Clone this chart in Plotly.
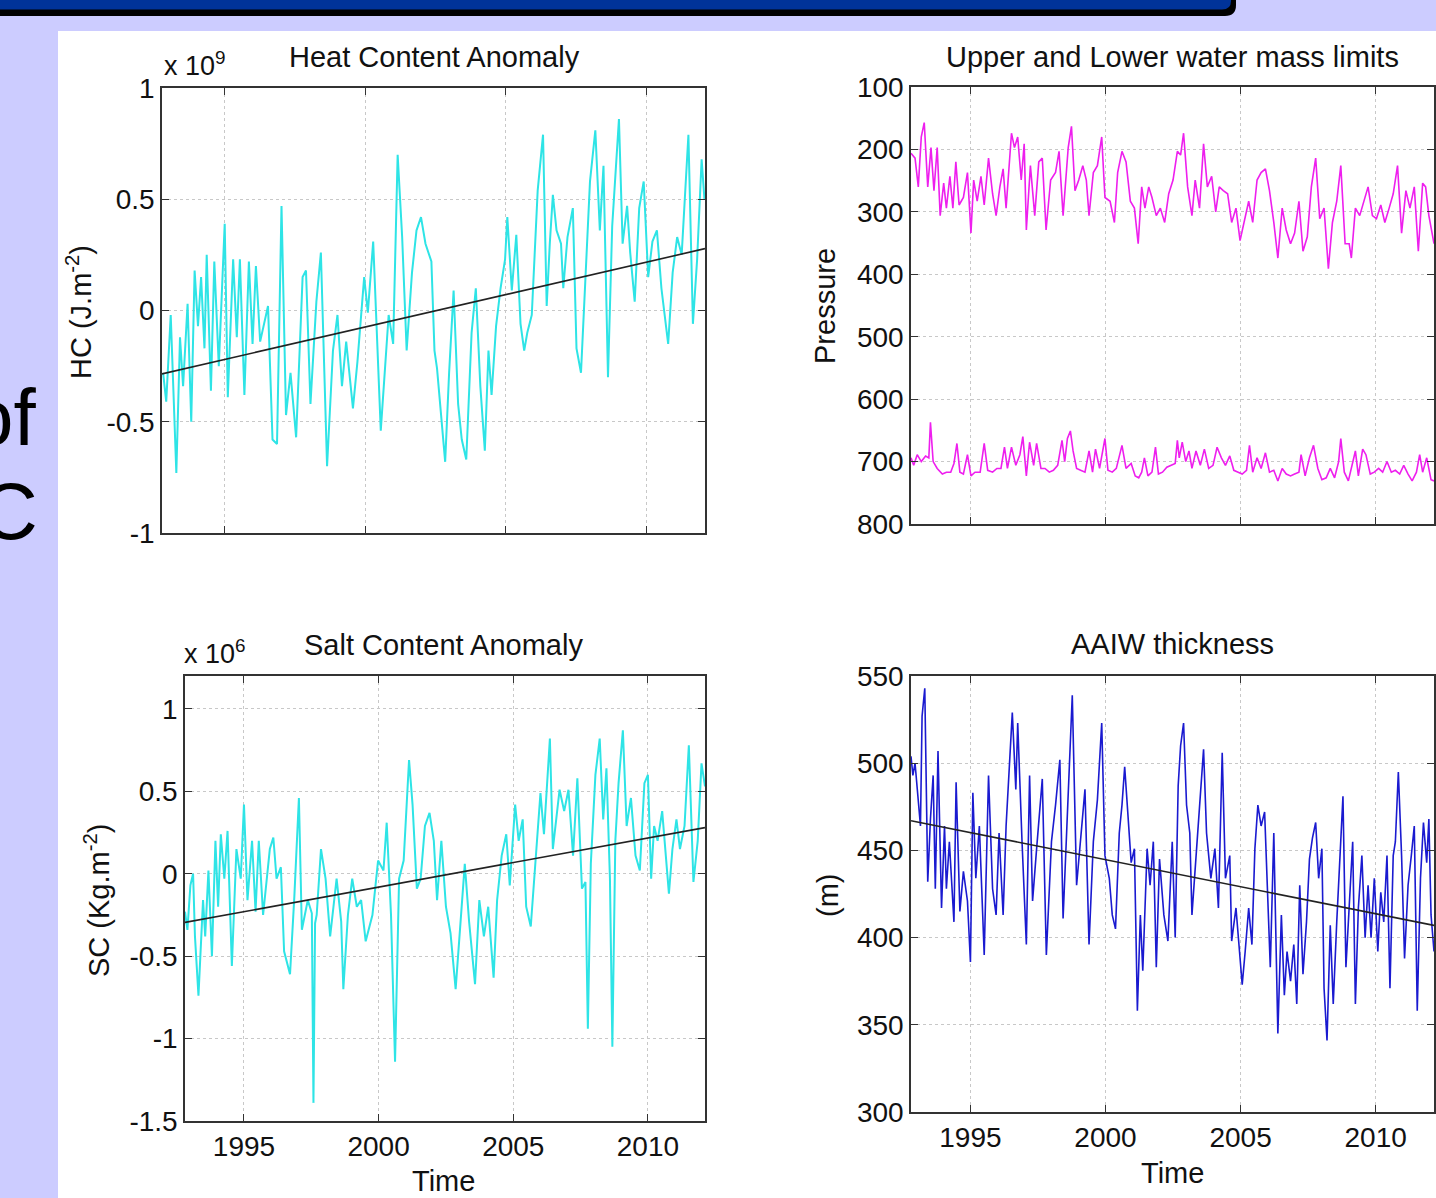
import plotly.graph_objects as go

W, H = 1436, 1198

# ---------------- data ----------------
hc_time = [1992.81, 1992.92, 1993.08, 1993.28, 1993.41, 1993.52, 1993.68, 1993.81, 1993.93, 1994.05,
           1994.16, 1994.28, 1994.36, 1994.51, 1994.63, 1994.79, 1995.00, 1995.11, 1995.30, 1995.43,
           1995.54, 1995.70, 1995.86, 1995.99, 1996.11, 1996.26, 1996.54, 1996.70, 1996.86, 1997.02,
           1997.18, 1997.34, 1997.54, 1997.77, 1997.89, 1998.05, 1998.26, 1998.42, 1998.64, 1998.85,
           1999.01, 1999.17, 1999.32, 1999.56, 1999.72, 1999.96, 2000.09, 2000.28, 2000.55, 2000.83,
           2000.99, 2001.15, 2001.31, 2001.47, 2001.66, 2001.82, 2001.98, 2002.14, 2002.35, 2002.46,
           2002.55, 2002.66, 2002.84, 2002.98, 2003.14, 2003.30, 2003.43, 2003.59, 2003.78, 2003.93,
           2004.09, 2004.25, 2004.38, 2004.49, 2004.65, 2004.81, 2004.97, 2005.05, 2005.21, 2005.37,
           2005.52, 2005.65, 2005.76, 2005.92, 2006.13, 2006.32, 2006.45, 2006.56, 2006.67, 2006.80,
           2006.96, 2007.04, 2007.19, 2007.38, 2007.51, 2007.67, 2007.83, 2007.99, 2008.18, 2008.34,
           2008.47, 2008.63, 2008.78, 2009.02, 2009.15, 2009.31, 2009.42, 2009.58, 2009.74, 2009.90,
           2010.06, 2010.21, 2010.37, 2010.53, 2010.77, 2010.93, 2011.09, 2011.25, 2011.49, 2011.65,
           2011.80, 2011.96, 2012.06]
hc_value = [-0.28, -0.41, -0.02, -0.73, -0.12, -0.34, 0.03, -0.50, 0.18, -0.07,
            0.15, -0.17, 0.25, -0.36, 0.22, -0.25, 0.39, -0.39, 0.23, -0.12,
            0.23, -0.38, 0.22, -0.15, 0.20, -0.14, 0.02, -0.58, -0.60, 0.47,
            -0.47, -0.28, -0.57, 0.15, 0.18, -0.42, 0.04, 0.26, -0.70, -0.18,
            -0.02, -0.34, -0.14, -0.44, -0.23, 0.15, -0.01, 0.31, -0.54, -0.02,
            -0.15, 0.70, 0.33, -0.18, 0.17, 0.36, 0.42, 0.30, 0.22, -0.18,
            -0.26, -0.42, -0.68, -0.28, 0.09, -0.42, -0.58, -0.67, -0.10, 0.10,
            -0.34, -0.63, -0.18, -0.38, -0.07, 0.10, 0.23, 0.42, 0.09, 0.34,
            -0.06, -0.18, -0.10, -0.02, 0.54, 0.79, 0.02, 0.30, 0.52, 0.36,
            0.30, 0.10, 0.33, 0.46, -0.17, -0.28, 0.14, 0.58, 0.81, 0.36,
            0.65, -0.30, 0.38, 0.86, 0.30, 0.47, 0.26, 0.04, 0.46, 0.58,
            0.15, 0.31, 0.36, 0.10, -0.15, 0.17, 0.33, 0.25, 0.79, -0.06,
            0.23, 0.68, 0.50]
hc_trend_time = [1992.77, 2012.08]
hc_trend_value = [-0.285, 0.278]

upper_time = [1992.80, 1992.95, 1993.07, 1993.18, 1993.29, 1993.42, 1993.54, 1993.65, 1993.77, 1993.88,
              1994.01, 1994.11, 1994.24, 1994.35, 1994.46, 1994.58, 1994.74, 1994.89, 1995.02, 1995.12,
              1995.25, 1995.39, 1995.51, 1995.67, 1995.82, 1995.95, 1996.09, 1996.21, 1996.32, 1996.52,
              1996.63, 1996.75, 1996.88, 1996.99, 1997.07, 1997.22, 1997.38, 1997.53, 1997.66, 1997.80,
              1997.97, 1998.15, 1998.28, 1998.43, 1998.62, 1998.74, 1998.87, 1999.01, 1999.16, 1999.29,
              1999.39, 1999.55, 1999.70, 1999.86, 1999.98, 2000.17, 2000.33, 2000.45, 2000.61, 2000.76,
              2000.92, 2001.07, 2001.21, 2001.34, 2001.46, 2001.60, 2001.72, 2001.88, 2002.03, 2002.19,
              2002.34, 2002.50, 2002.66, 2002.78, 2002.89, 2003.04, 2003.20, 2003.32, 2003.48, 2003.63,
              2003.77, 2003.93, 2004.08, 2004.21, 2004.36, 2004.52, 2004.67, 2004.83, 2004.98, 2005.14,
              2005.30, 2005.45, 2005.61, 2005.76, 2005.92, 2006.07, 2006.23, 2006.38, 2006.54, 2006.69,
              2006.85, 2007.00, 2007.16, 2007.31, 2007.47, 2007.62, 2007.78, 2007.93, 2008.09, 2008.25,
              2008.40, 2008.56, 2008.71, 2008.87, 2009.02, 2009.10, 2009.25, 2009.41, 2009.57, 2009.72,
              2009.88, 2010.03, 2010.19, 2010.34, 2010.50, 2010.65, 2010.81, 2010.96, 2011.12, 2011.27,
              2011.43, 2011.58, 2011.74, 2011.85, 2011.97, 2012.16]
upper_pressure = [206, 214, 260, 180, 157, 260, 197, 266, 197, 306,
                  254, 294, 243, 294, 220, 289, 277, 237, 334, 249,
                  283, 243, 289, 214, 271, 306, 260, 231, 294, 174,
                  197, 180, 249, 191, 329, 226, 306, 220, 214, 329,
                  249, 237, 203, 306, 197, 163, 266, 249, 226, 249,
                  306, 237, 226, 180, 277, 283, 317, 237, 203, 220,
                  283, 294, 351, 260, 294, 260, 277, 306, 294, 317,
                  271, 249, 203, 209, 174, 260, 306, 249, 294, 191,
                  260, 243, 300, 260, 266, 271, 317, 294, 346, 317,
                  283, 317, 249, 237, 231, 266, 317, 374, 294, 329,
                  351, 334, 283, 363, 340, 260, 214, 311, 294, 391,
                  317, 283, 226, 351, 351, 374, 294, 306, 283, 260,
                  306, 311, 289, 317, 294, 271, 226, 334, 266, 294,
                  260, 363, 254, 260, 306, 351]

lower_time = [1992.80, 1992.90, 1993.03, 1993.18, 1993.34, 1993.46, 1993.52, 1993.62, 1993.77, 1993.96,
              1994.11, 1994.27, 1994.39, 1994.50, 1994.61, 1994.74, 1994.89, 1995.02, 1995.17, 1995.36,
              1995.51, 1995.64, 1995.82, 1995.98, 1996.13, 1996.26, 1996.37, 1996.52, 1996.68, 1996.83,
              1996.94, 1997.07, 1997.19, 1997.34, 1997.45, 1997.61, 1997.76, 1997.92, 1998.07, 1998.23,
              1998.39, 1998.49, 1998.59, 1998.70, 1998.80, 1998.93, 1999.08, 1999.24, 1999.39, 1999.52,
              1999.63, 1999.78, 1999.98, 2000.09, 2000.25, 2000.40, 2000.61, 2000.76, 2000.95, 2001.10,
              2001.23, 2001.34, 2001.44, 2001.57, 2001.72, 2001.85, 2001.96, 2002.11, 2002.27, 2002.42,
              2002.58, 2002.66, 2002.73, 2002.84, 2002.97, 2003.09, 2003.20, 2003.35, 2003.51, 2003.66,
              2003.82, 2003.98, 2004.13, 2004.29, 2004.44, 2004.60, 2004.75, 2004.91, 2005.06, 2005.22,
              2005.33, 2005.45, 2005.61, 2005.76, 2005.92, 2006.07, 2006.23, 2006.38, 2006.54, 2006.69,
              2006.85, 2007.00, 2007.16, 2007.24, 2007.39, 2007.55, 2007.70, 2007.86, 2008.01, 2008.17,
              2008.32, 2008.48, 2008.63, 2008.71, 2008.84, 2008.99, 2009.15, 2009.25, 2009.36, 2009.52,
              2009.64, 2009.80, 2009.95, 2010.11, 2010.26, 2010.42, 2010.58, 2010.73, 2010.89, 2011.04,
              2011.20, 2011.35, 2011.51, 2011.63, 2011.74, 2011.89, 2012.05, 2012.16]
lower_pressure = [694, 706, 689, 700, 691, 694, 637, 700, 711, 720,
                  717, 717, 703, 671, 717, 720, 689, 723, 717, 717,
                  671, 714, 717, 711, 711, 677, 711, 677, 706, 689,
                  660, 723, 669, 706, 671, 711, 711, 717, 714, 706,
                  666, 700, 663, 651, 683, 711, 714, 717, 683, 717,
                  680, 711, 663, 714, 717, 711, 674, 711, 703, 723,
                  726, 717, 694, 723, 717, 677, 720, 717, 709, 706,
                  703, 666, 694, 669, 700, 683, 711, 683, 706, 680,
                  711, 706, 677, 694, 706, 691, 714, 717, 720, 714,
                  674, 717, 694, 711, 686, 717, 714, 731, 711, 720,
                  723, 720, 717, 689, 723, 694, 674, 711, 729, 726,
                  711, 726, 700, 663, 717, 731, 700, 683, 723, 680,
                  689, 720, 717, 711, 717, 700, 717, 714, 720, 706,
                  720, 731, 717, 689, 717, 694, 729, 731]

sc_time = [1992.81, 1992.90, 1993.01, 1993.11, 1993.18, 1993.31, 1993.48, 1993.56, 1993.68, 1993.81,
           1993.94, 1994.04, 1994.14, 1994.27, 1994.39, 1994.55, 1994.72, 1994.88, 1995.00, 1995.13,
           1995.30, 1995.43, 1995.55, 1995.71, 1995.96, 1996.09, 1996.21, 1996.37, 1996.49, 1996.71,
           1996.87, 1997.04, 1997.15, 1997.37, 1997.52, 1997.58, 1997.64, 1997.70, 1997.86, 1998.03, 1998.20, 1998.44,
           1998.61, 1998.69, 1998.86, 1999.02, 1999.19, 1999.35, 1999.52, 1999.77, 1999.98, 2000.18,
           2000.30, 2000.46, 2000.61, 2000.76, 2000.93, 2001.13, 2001.26, 2001.42, 2001.56, 2001.72,
           2001.89, 2002.05, 2002.17, 2002.33, 2002.50, 2002.67, 2002.86, 2003.03, 2003.20, 2003.36,
           2003.58, 2003.74, 2003.91, 2004.07, 2004.27, 2004.40, 2004.57, 2004.74, 2004.87, 2005.07,
           2005.20, 2005.35, 2005.48, 2005.65, 2005.81, 2006.01, 2006.14, 2006.36, 2006.47, 2006.59,
           2006.72, 2006.89, 2007.05, 2007.22, 2007.38, 2007.55, 2007.68, 2007.77, 2007.88, 2008.05,
           2008.21, 2008.34, 2008.46, 2008.59, 2008.68, 2008.79, 2008.91, 2009.07, 2009.21, 2009.37,
           2009.54, 2009.70, 2009.87, 2010.00, 2010.12, 2010.23, 2010.36, 2010.53, 2010.78, 2010.91,
           2011.06, 2011.19, 2011.36, 2011.52, 2011.69, 2011.85, 2011.99, 2012.12]
sc_value = [-0.23, -0.34, -0.07, 0.00, -0.38, -0.74, -0.16, -0.38, 0.02, -0.50,
            0.20, -0.20, 0.24, -0.03, 0.26, -0.56, 0.15, -0.03, 0.42, -0.16,
            0.20, -0.23, 0.20, -0.25, 0.15, 0.22, -0.03, 0.04, -0.47, -0.61,
            -0.14, 0.46, -0.34, -0.16, -0.24, -1.39, -0.30, -0.25, 0.15, -0.03, -0.38, -0.03,
            -0.29, -0.70, -0.25, -0.03, -0.20, -0.16, -0.41, -0.25, 0.08, 0.02,
            0.31, -0.25, -1.14, -0.03, 0.08, 0.69, 0.42, -0.09, -0.03, 0.29,
            0.37, 0.20, -0.16, 0.20, -0.20, -0.36, -0.70, -0.29, 0.06, -0.29,
            -0.67, -0.16, -0.38, -0.20, -0.63, -0.16, 0.11, 0.24, -0.07, 0.42,
            0.20, 0.33, -0.20, -0.32, 0.02, 0.49, 0.24, 0.82, 0.15, 0.33,
            0.51, 0.38, 0.51, 0.11, 0.58, -0.09, -0.05, -0.94, 0.06, 0.60,
            0.82, 0.33, 0.64, -0.03, -1.05, 0.20, 0.55, 0.87, 0.29, 0.46,
            0.11, 0.02, 0.55, 0.60, -0.03, 0.29, 0.20, 0.38, -0.12, 0.15,
            0.33, 0.15, 0.29, 0.78, -0.05, 0.20, 0.67, 0.53]
sc_trend_time = [1992.81, 2012.12]
sc_trend_value = [-0.295, 0.28]

aaiw_time = [1992.80, 1992.87, 1992.95, 1993.06, 1993.15, 1993.21, 1993.31, 1993.42, 1993.52, 1993.62,
             1993.70, 1993.80, 1993.93, 1994.04, 1994.11, 1994.22, 1994.39, 1994.47, 1994.61, 1994.74,
             1994.89, 1995.00, 1995.09, 1995.20, 1995.33, 1995.51, 1995.67, 1995.82, 1995.95, 1996.06,
             1996.21, 1996.32, 1996.44, 1996.55, 1996.68, 1996.75, 1996.91, 1997.07, 1997.19, 1997.30,
             1997.45, 1997.66, 1997.81, 1998.00, 1998.15, 1998.31, 1998.43, 1998.59, 1998.77, 1998.93,
             1999.12, 1999.24, 1999.39, 1999.55, 1999.70, 1999.86, 1999.98, 2000.14, 2000.25, 2000.37,
             2000.51, 2000.61, 2000.71, 2000.82, 2000.95, 2001.07, 2001.18, 2001.29, 2001.38, 2001.54,
             2001.65, 2001.77, 2001.88, 2002.00, 2002.16, 2002.31, 2002.47, 2002.58, 2002.69, 2002.78,
             2002.89, 2003.00, 2003.12, 2003.20, 2003.35, 2003.51, 2003.63, 2003.74, 2003.90, 2004.05,
             2004.18, 2004.32, 2004.44, 2004.60, 2004.67, 2004.83, 2004.95, 2005.06, 2005.17, 2005.30,
             2005.42, 2005.53, 2005.64, 2005.76, 2005.89, 2005.99, 2006.10, 2006.23, 2006.38, 2006.51,
             2006.62, 2006.72, 2006.85, 2006.97, 2007.08, 2007.19, 2007.31, 2007.44, 2007.55, 2007.66,
             2007.78, 2007.89, 2008.01, 2008.09, 2008.20, 2008.32, 2008.43, 2008.56, 2008.68, 2008.79,
             2008.90, 2009.02, 2009.15, 2009.25, 2009.36, 2009.49, 2009.61, 2009.72, 2009.83, 2009.95,
             2010.08, 2010.19, 2010.30, 2010.42, 2010.53, 2010.65, 2010.73, 2010.84, 2010.96, 2011.07,
             2011.20, 2011.32, 2011.43, 2011.54, 2011.66, 2011.77, 2011.89, 2011.97, 2012.05, 2012.16]
aaiw_thickness = [504, 493, 500, 481, 464, 527, 543, 432, 468, 493,
                  428, 507, 417, 464, 428, 455, 409, 489, 415, 438,
                  421, 386, 483, 434, 464, 390, 493, 428, 413, 460,
                  413, 464, 495, 529, 485, 523, 455, 396, 493, 421,
                  451, 491, 390, 455, 476, 502, 411, 474, 539, 430,
                  466, 485, 396, 455, 479, 523, 447, 434, 413, 405,
                  460, 476, 498, 470, 443, 451, 358, 413, 381, 451,
                  430, 455, 383, 445, 413, 398, 455, 400, 487, 510,
                  523, 476, 460, 413, 445, 485, 508, 460, 434, 451,
                  417, 506, 434, 447, 398, 417, 396, 373, 392, 417,
                  396, 451, 476, 464, 472, 434, 383, 460, 345, 413,
                  367, 392, 375, 396, 362, 430, 379, 409, 445, 457,
                  466, 434, 451, 371, 341, 407, 362, 409, 443, 481,
                  383, 415, 455, 362, 417, 447, 400, 430, 400, 434,
                  392, 426, 409, 447, 371, 447, 455, 495, 447, 388,
                  430, 447, 464, 358, 434, 466, 443, 468, 413, 392]
aaiw_trend_time = [1992.80, 2012.16]
aaiw_trend_value = [467, 407]

year_ticks = [1995, 2000, 2005, 2010]
year_labels = ["1995", "2000", "2005", "2010"]
hc_ticks = [-1, -0.5, 0, 0.5, 1]
hc_labels = ["-1", "-0.5", "0", "0.5", "1"]
p_ticks = [100, 200, 300, 400, 500, 600, 700, 800]
p_labels = ["100", "200", "300", "400", "500", "600", "700", "800"]
sc_ticks = [-1.5, -1, -0.5, 0, 0.5, 1]
sc_labels = ["-1.5", "-1", "-0.5", "0", "0.5", "1"]
th_ticks = [300, 350, 400, 450, 500, 550]
th_labels = ["300", "350", "400", "450", "500", "550"]

assert len(hc_time) == len(hc_value)
assert len(upper_time) == len(upper_pressure)
assert len(lower_time) == len(lower_pressure)
assert len(sc_time) == len(sc_value)
assert len(aaiw_time) == len(aaiw_thickness)

# ---------------- styling ----------------
FONT = "Liberation Sans, Arial, Helvetica, sans-serif"
CYAN = "#2EE4E6"
MAGENTA = "#EE1FEE"
BLUE = "#1A1AD0"
TREND = "#222222"


def fx(px):
    return px / W


def fy(py):
    return 1 - py / H


fig = go.Figure()


def line(x, y, color, width, ax):
    fig.add_trace(go.Scatter(x=x, y=y, mode="lines", line=dict(color=color, width=width),
                             xaxis="x" + ax, yaxis="y" + ax, showlegend=False, hoverinfo="skip"))


line(hc_time, hc_value, CYAN, 2, "")
line(hc_trend_time, hc_trend_value, TREND, 1.6, "")
line(upper_time, upper_pressure, MAGENTA, 1.6, "2")
line(lower_time, lower_pressure, MAGENTA, 1.6, "2")
line(sc_time, sc_value, CYAN, 2, "3")
line(sc_trend_time, sc_trend_value, TREND, 1.6, "3")
line(aaiw_time, aaiw_thickness, BLUE, 1.6, "4")
line(aaiw_trend_time, aaiw_trend_value, TREND, 1.6, "4")

axis_style = dict(showline=True, linecolor="#333333", linewidth=1.5, mirror="ticks",
                  ticks="inside", ticklen=7, tickwidth=1.2, tickcolor="#333333",
                  showgrid=True, gridcolor="#c8c8c8", griddash="dot", gridwidth=1,
                  zeroline=False, automargin=False, ticklabelstandoff=0,
                  tickfont=dict(family=FONT, size=28, color="#111111"))

fig.update_layout(
    template="none",
    width=W, height=H, autosize=False, margin=dict(l=0, r=0, t=0, b=0, pad=0),
    font=dict(family=FONT, color="#111111"),
    paper_bgcolor="#CCCCFF", plot_bgcolor="white", showlegend=False,
    xaxis=dict(domain=[fx(162), fx(705)], anchor="y", range=[1992.77, 2012.08],
               tickvals=year_ticks, ticktext=year_labels, showticklabels=False, **axis_style),
    yaxis=dict(domain=[fy(533), fy(88)], anchor="x", range=[-1, 1],
               tickvals=hc_ticks, ticktext=hc_labels, **axis_style),
    xaxis2=dict(domain=[fx(911), fx(1434)], anchor="y2", range=[1992.80, 2012.16],
                tickvals=year_ticks, ticktext=year_labels, showticklabels=False, **axis_style),
    yaxis2=dict(domain=[fy(524), fy(87)], anchor="x2", range=[800, 100],
                tickvals=p_ticks, ticktext=p_labels, **axis_style),
    xaxis3=dict(domain=[fx(185), fx(705)], anchor="y3", range=[1992.81, 2012.12],
                tickvals=year_ticks, ticktext=year_labels, **axis_style),
    yaxis3=dict(domain=[fy(1121), fy(676)], anchor="x3", range=[-1.5, 1.2],
                tickvals=sc_ticks, ticktext=sc_labels, **axis_style),
    xaxis4=dict(domain=[fx(911), fx(1434)], anchor="y4", range=[1992.80, 2012.16],
                tickvals=year_ticks, ticktext=year_labels, **axis_style),
    yaxis4=dict(domain=[fy(1112), fy(676)], anchor="x4", range=[300, 550],
                tickvals=th_ticks, ticktext=th_labels, **axis_style),
)

# slide decorations: white content area, header bar with shadow
shapes = [
    dict(type="rect", xref="paper", yref="paper", x0=fx(58), x1=1, y0=0, y1=fy(31),
         fillcolor="white", line=dict(width=0), layer="below"),
    dict(type="path", xref="paper", yref="paper", layer="above",
         path=(f"M {fx(0)},{fy(0)} L {fx(1236)},{fy(0)} L {fx(1236)},{fy(5)} "
               f"Q {fx(1236)},{fy(16)} {fx(1225)},{fy(16)} L {fx(0)},{fy(16)} Z"),
         fillcolor="#000000", line=dict(width=0)),
    dict(type="path", xref="paper", yref="paper", layer="above",
         path=(f"M {fx(0)},{fy(0)} L {fx(1231)},{fy(0)} L {fx(1231)},{fy(1)} "
               f"Q {fx(1231)},{fy(9.5)} {fx(1222)},{fy(9.5)} L {fx(0)},{fy(9.5)} Z"),
         fillcolor="#003399", line=dict(width=0)),
]
fig.update_layout(shapes=shapes)


def text(s, x, y, size=29, xanchor="center", angle=0, color="#111111"):
    return dict(text=s, x=fx(x), y=fy(y), xref="paper", yref="paper", showarrow=False,
                xanchor=xanchor, yanchor="middle", textangle=angle,
                font=dict(family=FONT, size=size, color=color))


annotations = [
    text("Heat Content Anomaly", 434, 57),
    text("x 10<sup>9</sup>", 162, 64, size=27, xanchor="left"),
    text("HC (J.m<sup>-2</sup>)", 79, 312, angle=-90),
    text("Upper and Lower water mass limits", 1172, 57),
    text("Pressure", 825, 306, angle=-90),
    text("Salt Content Anomaly", 443, 645),
    text("x 10<sup>6</sup>", 182, 652, size=27, xanchor="left"),
    text("SC (Kg.m<sup>-2</sup>)", 97, 900, angle=-90),
    text("Time", 443, 1181),
    text("AAIW thickness", 1172, 644),
    text("(m)", 828, 895, angle=-90),
    text("Time", 1172, 1173),
    text("of", 38, 418, size=80, xanchor="right", color="#000000"),
    text("C", 40, 511, size=80, xanchor="right", color="#000000"),
]
fig.update_layout(annotations=annotations)

fig.write_html(
    "out.html",
    config={"displayModeBar": False, "responsive": False},
    post_script="document.body.style.margin='0px';document.body.style.padding='0px';"
                "document.body.style.overflow='hidden';",
)
